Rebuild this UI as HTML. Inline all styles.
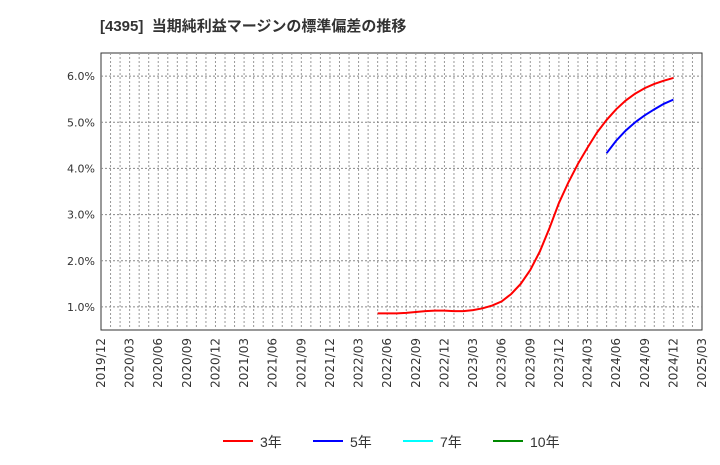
<!DOCTYPE html>
<html><head><meta charset="utf-8"><style>
body{margin:0;background:#fff;font-family:"Liberation Sans","Noto Sans CJK JP",sans-serif;}
svg text{font-family:"Liberation Sans","Noto Sans CJK JP",sans-serif;}
svg text.ax{font-family:"DejaVu Sans","Liberation Sans",sans-serif;}
</style></head><body>
<svg id="c" width="720" height="460" xmlns="http://www.w3.org/2000/svg">
<text x="100" y="31" font-size="15" font-weight="bold" fill="#333">[4395]&#160; 当期純利益マージンの標準偏差の推移</text>
<rect x="101" y="53" width="601" height="277" fill="#fff" stroke="#333" stroke-width="1"/>
<g id="grid"></g><g id="ylab"></g><g id="xlab"></g><g id="series"></g>
<g>
<g><line x1="223" y1="441" x2="253" y2="441" stroke="#f00" stroke-width="2"/><text x="260" y="447" font-size="14" fill="#333">3年</text></g>
<g><line x1="313" y1="441" x2="343" y2="441" stroke="#00f" stroke-width="2"/><text x="350" y="447" font-size="14" fill="#333">5年</text></g>
<g><line x1="403" y1="441" x2="433" y2="441" stroke="#0ff" stroke-width="2"/><text x="440" y="447" font-size="14" fill="#333">7年</text></g>
<g><line x1="493" y1="441" x2="523" y2="441" stroke="#080" stroke-width="2"/><text x="530" y="447" font-size="14" fill="#333">10年</text></g>
</g>
</svg>
<script>
const yTicks=[1,2,3,4,5,6];
const xTickLabels=["2019/12","2020/03","2020/06","2020/09","2020/12","2021/03","2021/06","2021/09","2021/12","2022/03","2022/06","2022/09","2022/12","2023/03","2023/06","2023/09","2023/12","2024/03","2024/06","2024/09","2024/12","2025/03"];
const red3Start=29;
const red3=[0.86,0.86,0.86,0.87,0.89,0.91,0.92,0.92,0.91,0.91,0.93,0.97,1.03,1.12,1.28,1.5,1.8,2.2,2.7,3.25,3.7,4.1,4.45,4.78,5.05,5.28,5.47,5.62,5.74,5.83,5.9,5.96];
const blue5Start=53;
const blue5=[4.33,4.6,4.82,5.0,5.15,5.28,5.4,5.49];
const L=101,R=702,T=53,B=330,NM=63,YMIN=0.5,YMAX=6.5;
const xs=m=>L+(R-L)*m/NM, ys=v=>B-(B-T)*(v-YMIN)/(YMAX-YMIN);
const NS="http://www.w3.org/2000/svg";
function mk(t,a,p){const e=document.createElementNS(NS,t);for(const k in a)e.setAttribute(k,a[k]);p.appendChild(e);return e;}
const g=document.getElementById('grid');
for(let m=1;m<NM;m++){const l=mk('line',{x1:xs(m),x2:xs(m),y1:T,y2:B,stroke:'#999','stroke-dasharray':'2,2'},g);

}
const yl=document.getElementById('ylab');
yTicks.forEach(v=>{const l=mk('line',{x1:L,x2:R,y1:ys(v),y2:ys(v),stroke:'#888','stroke-dasharray':'2,2'},g);


const t=mk('text',{class:'ax',x:L-6,y:ys(v)+4,'text-anchor':'end','font-size':11,fill:'#333'},yl);t.textContent=v.toFixed(1)+'%';

});
const xl=document.getElementById('xlab');
xTickLabels.forEach((s,i)=>{const x=xs(i*3)+4;const t=mk('text',{class:'ax',x:x,y:338,'text-anchor':'end','font-size':12,fill:'#333',transform:`rotate(-90 ${x} 338)`},xl);t.textContent=s;

});
const sg=document.getElementById('series');
function line(arr,st,col,name){const p=mk('polyline',{points:arr.map((v,i)=>xs(st+i)+','+ys(v)).join(' '),fill:'none',stroke:col,'stroke-width':2},sg);

}
line(red3,red3Start,'#f00','series-3y');
line(blue5,blue5Start,'#00f','series-5y');
</script>
</body></html>
